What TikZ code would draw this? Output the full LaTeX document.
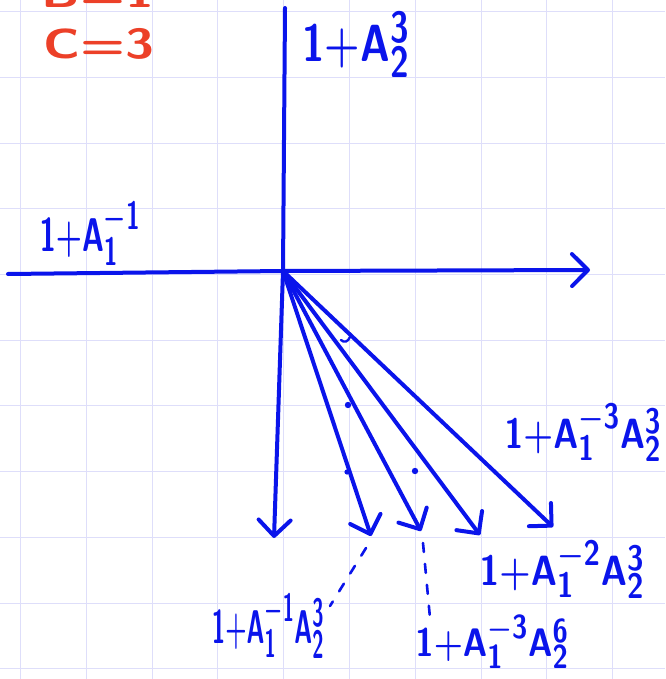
\documentclass[tikz,border=0pt]{standalone}
\usepackage{graphicx}
\usetikzlibrary{arrows.meta}
\definecolor{gridc}{RGB}{222,222,250}
\definecolor{pen}{RGB}{10,20,235}
\definecolor{redpen}{RGB}{236,64,40}
\newcommand\hw[3]{\scalebox{#1}[#2]{\boldmath$\mathsf{#3}$}}
\begin{document}
\begin{tikzpicture}[x=1pt,y=-1pt,
  gridline/.style={gridc,line width=0.9pt},
  stroke/.style={pen,line width=4pt,line cap=round,line join=round},
  arr/.style={stroke,-{Straight Barb[length=16pt,width=32pt,line width=4pt,round]}},
  guide/.style={pen,line width=2.6pt,line cap=round,dash pattern=on 9pt off 12pt},
  lbl/.style={pen,inner sep=0pt,font=\fontsize{30}{36}\selectfont},
  redlbl/.style={redpen,inner sep=0pt,font=\fontsize{30}{36}\selectfont\sffamily\bfseries},
  speck/.style={pen}]
\useasboundingbox (0,0) rectangle (665,679);
\fill[white] (0,0) rectangle (665,679);
% grid
\foreach \i in {0,...,9} \draw[gridline] (20.4+65.8*\i,0) -- (20.4+65.8*\i,679);
\foreach \j in {0,...,10} \draw[gridline] (0,11.7+65.7*\j) -- (665,11.7+65.7*\j);
% coordinates
\coordinate (O) at (283,271);
\coordinate (top) at (285,8);
\coordinate (left) at (8,274);
\coordinate (right) at (590,270);
\coordinate (down) at (274,538);
\coordinate (a1) at (371,536);
\coordinate (a2) at (421,531);
\coordinate (a3) at (480,535);
\coordinate (a4) at (553,527);
\coordinate (d1s) at (366,548);
\coordinate (d1e) at (330,606);
\coordinate (d2s) at (423,543);
\coordinate (d2e) at (430,618);
% axes
\draw[stroke] (top) -- (O);
\draw[stroke] (left) -- (O);
\draw[arr] (O) -- (right);
\draw[arr] (O) -- (down);
% fan of arrows
\draw[arr] (O) -- (a1);
\draw[arr] (O) -- (a2);
\draw[arr] (O) -- (a3);
\draw[arr] (O) -- (a4);
% dashed guides
\draw[guide] (d1s) -- (d1e);
\draw[guide] (d2s) -- (d2e);
% specks
\fill[speck] (348,405) circle (3.2pt);
\fill[speck] (347,472) circle (2.6pt);
\fill[speck] (415,471) circle (3.2pt);
\draw[pen,line width=2.4pt,line cap=round] (341,340) .. controls (344,343) and (348,342) .. (350,337);
% labels
\node[lbl] (lA2) at (356,45) {\hw{1.63}{2.1}{1{+}A_2^{3}}};
\node[lbl] (lA1) at (90,234) {\hw{1.2}{1.9}{1{+}A_1^{-1}}};
\node[lbl] (l33) at (583,433) {\hw{1.37}{1.7}{1{+}A_1^{-3}A_2^{3}}};
\node[lbl] (l23) at (562,570) {\hw{1.44}{1.7}{1{+}A_1^{-2}A_2^{3}}};
\node[lbl] (l13) at (268,626) {\hw{0.98}{1.9}{1{+}A_1^{-1}A_2^{3}}};
\node[lbl] (l36) at (492,642) {\hw{1.34}{1.6}{1{+}A_1^{-3}A_2^{6}}};
\node[redlbl] (lB) at (98,-8) {\scalebox{1.75}[1.4]{B=1}};
\node[redlbl] (lC) at (99,44) {\scalebox{1.75}[1.4]{C=3}};
\end{tikzpicture}
\end{document}
